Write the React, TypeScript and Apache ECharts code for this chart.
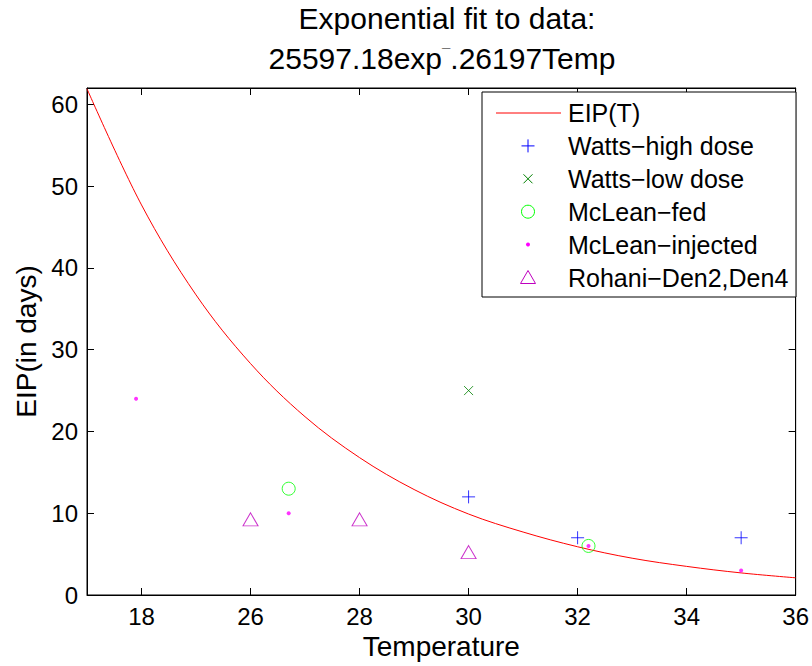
import React, { useEffect, useRef } from "react";
import * as echarts from "echarts";

// ---- Data ----
const curveTemp = [23, 24, 25, 26, 27, 28, 29, 30, 31, 32, 33, 34, 35, 36];
const curveEIP = [61.9, 47.7, 36.7, 28.3, 21.8, 16.8, 12.9, 9.9, 7.7, 5.9, 4.5, 3.5, 2.7, 2.1];

const wattsHighTemp = [30, 32, 35];
const wattsHighEIP = [12, 7, 7];

const wattsLowTemp = [30];
const wattsLowEIP = [25];

const mcleanFedTemp = [26.7, 32.2];
const mcleanFedEIP = [13, 6];

const mcleanInjTemp = [23.9, 26.7, 32.2, 35];
const mcleanInjEIP = [24, 10, 6, 3];

const rohaniTemp = [26, 28, 30];
const rohaniEIP = [9, 9, 5];

const xTickValues = [24, 26, 28, 30, 32, 34, 36];
const xTickLabels = ["18", "26", "28", "30", "32", "34", "36"];
const yTickValues = [0, 10, 20, 30, 40, 50, 60];

const seriesNames = [
  "EIP(T)",
  "Watts\u2212high dose",
  "Watts\u2212low dose",
  "McLean\u2212fed",
  "McLean\u2212injected",
  "Rohani\u2212Den2,Den4",
];

const titleLine1 = "Exponential fit to data:";
const titleLine2 = "25597.18exp{s|\u00AF}.26197Temp";

const FONT = '"Liberation Sans", Arial, Helvetica, sans-serif';

const zip = (a: number[], b: number[]) => a.map((v, i) => [v, b[i]]);

const PLUS = "path://M0,-10 L0,10 M-10,0 L10,0";
const CROSS = "path://M-10,-10 L10,10 M-10,10 L10,-10";

export default function App() {
  const ref = useRef<HTMLDivElement>(null);

  useEffect(() => {
    if (!ref.current) return;
    const chart = echarts.init(ref.current, null, { renderer: "svg" });

    // legend drawn with graphics
    const lgX = 482;
    const lgY = 92;
    const lgW = 314;
    const lgH = 205;
    const row0 = 113;
    const rowStep = 32.9;
    const symX = 528;
    const textX = 568;
    const legendEls: any[] = [
      {
        type: "rect",
        shape: { x: lgX, y: lgY, width: lgW, height: lgH },
        style: { fill: "#fff", stroke: "#000", lineWidth: 1 },
        z: 100,
      },
    ];
    const ry = (i: number) => row0 + i * rowStep;
    legendEls.push({
      type: "line",
      shape: { x1: 496, y1: ry(0), x2: 561, y2: ry(0) },
      style: { stroke: "#ff0000", lineWidth: 1 },
      z: 101,
    });
    legendEls.push({
      type: "line",
      shape: { x1: symX - 6.5, y1: ry(1), x2: symX + 6.5, y2: ry(1) },
      style: { stroke: "#0000ff", lineWidth: 1 },
      z: 101,
    });
    legendEls.push({
      type: "line",
      shape: { x1: symX, y1: ry(1) - 6.5, x2: symX, y2: ry(1) + 6.5 },
      style: { stroke: "#0000ff", lineWidth: 1 },
      z: 101,
    });
    legendEls.push({
      type: "line",
      shape: { x1: symX - 4.5, y1: ry(2) - 4.5, x2: symX + 4.5, y2: ry(2) + 4.5 },
      style: { stroke: "#008000", lineWidth: 1 },
      z: 101,
    });
    legendEls.push({
      type: "line",
      shape: { x1: symX - 4.5, y1: ry(2) + 4.5, x2: symX + 4.5, y2: ry(2) - 4.5 },
      style: { stroke: "#008000", lineWidth: 1 },
      z: 101,
    });
    legendEls.push({
      type: "circle",
      shape: { cx: symX, cy: ry(3), r: 6.5 },
      style: { fill: "none", stroke: "#00ff00", lineWidth: 1 },
      z: 101,
    });
    legendEls.push({
      type: "circle",
      shape: { cx: symX, cy: ry(4), r: 2 },
      style: { fill: "#ff00ff" },
      z: 101,
    });
    legendEls.push({
      type: "polygon",
      shape: {
        points: [
          [symX, ry(5) - 7],
          [symX - 7.5, ry(5) + 6],
          [symX + 7.5, ry(5) + 6],
        ],
      },
      style: { fill: "none", stroke: "#bf00bf", lineWidth: 1 },
      z: 101,
    });
    seriesNames.forEach((n, i) => {
      legendEls.push({
        type: "text",
        x: textX,
        y: ry(i),
        style: {
          text: n,
          fill: "#000",
          fontSize: 25,
          fontFamily: FONT,
          align: "left",
          verticalAlign: "middle",
        },
        z: 101,
      });
    });

    const titleEls = [
      {
        type: "text",
        x: 447,
        y: 18,
        style: {
          text: titleLine1,
          fill: "#000",
          fontSize: 30,
          fontFamily: FONT,
          align: "center",
          verticalAlign: "middle",
        },
      },
      {
        type: "text",
        x: 442,
        y: 58,
        style: {
          text: titleLine2,
          fill: "#000",
          fontSize: 30,
          fontFamily: FONT,
          align: "center",
          verticalAlign: "middle",
          rich: {
            s: {
              fontSize: 15,
              fontFamily: FONT,
              fill: "#000",
              verticalAlign: "bottom",
              padding: [0, 0, 12, 0],
            },
          },
        },
      },
    ];

    const axisCommon = {
      type: "value",
      axisLine: { show: true, onZero: false, lineStyle: { color: "#000", width: 1 } },
      splitLine: { show: false },
    };

    const option: any = {
      animation: false,
      backgroundColor: "#fff",
      textStyle: { fontFamily: FONT },
      grid: {
        left: 87,
        right: 16,
        top: 88,
        bottom: 71,
        show: true,
        borderColor: "#000",
        borderWidth: 1,
        backgroundColor: "transparent",
      },
      xAxis: [
        {
          ...axisCommon,
          position: "bottom",
          min: 23,
          max: 36,
          name: "Temperature",
          nameLocation: "middle",
          nameGap: 33,
          nameTextStyle: { fontSize: 28, color: "#000", fontFamily: FONT },
          axisTick: { show: true, inside: true, length: 7, customValues: xTickValues, lineStyle: { color: "#000" } },
          axisLabel: {
            show: true,
            customValues: xTickValues,
            margin: 9,
            fontSize: 24,
            color: "#000",
            fontFamily: FONT,
            formatter: (v: number) => {
              const idx = xTickValues.indexOf(v);
              return idx >= 0 ? xTickLabels[idx] : "";
            },
          },
        },
        {
          ...axisCommon,
          position: "top",
          min: 23,
          max: 36,
          axisTick: { show: true, inside: true, length: 7, customValues: xTickValues, lineStyle: { color: "#000" } },
          axisLabel: { show: false },
        },
      ],
      yAxis: [
        {
          ...axisCommon,
          position: "left",
          min: 0,
          max: 62,
          name: "EIP(in days)",
          nameLocation: "middle",
          nameGap: 44,
          nameRotate: 90,
          nameTextStyle: { fontSize: 28, color: "#000", fontFamily: FONT },
          axisTick: { show: true, inside: true, length: 7, customValues: yTickValues, lineStyle: { color: "#000" } },
          axisLabel: {
            show: true,
            customValues: yTickValues,
            margin: 9,
            fontSize: 24,
            color: "#000",
            fontFamily: FONT,
          },
        },
        {
          ...axisCommon,
          position: "right",
          min: 0,
          max: 62,
          axisTick: { show: true, inside: true, length: 7, customValues: yTickValues, lineStyle: { color: "#000" } },
          axisLabel: { show: false },
        },
      ],
      series: [
        {
          name: seriesNames[0],
          type: "line",
          data: zip(curveTemp, curveEIP),
          smooth: 0.35,
          symbol: "none",
          clip: true,
          lineStyle: { color: "#ff0000", width: 1 },
          z: 2,
        },
        {
          name: seriesNames[1],
          type: "scatter",
          data: zip(wattsHighTemp, wattsHighEIP),
          symbol: PLUS,
          symbolSize: 13,
          itemStyle: { color: "rgba(0,0,0,0)", borderColor: "#0000ff", borderWidth: 1 },
          z: 3,
        },
        {
          name: seriesNames[2],
          type: "scatter",
          data: zip(wattsLowTemp, wattsLowEIP),
          symbol: CROSS,
          symbolSize: 9,
          itemStyle: { color: "rgba(0,0,0,0)", borderColor: "#008000", borderWidth: 1 },
          z: 3,
        },
        {
          name: seriesNames[3],
          type: "scatter",
          data: zip(mcleanFedTemp, mcleanFedEIP),
          symbol: "circle",
          symbolSize: 13,
          itemStyle: { color: "rgba(0,0,0,0)", borderColor: "#00ff00", borderWidth: 1 },
          z: 3,
        },
        {
          name: seriesNames[4],
          type: "scatter",
          data: zip(mcleanInjTemp, mcleanInjEIP),
          symbol: "circle",
          symbolSize: 4,
          itemStyle: { color: "#ff00ff" },
          z: 4,
        },
        {
          name: seriesNames[5],
          type: "scatter",
          data: zip(rohaniTemp, rohaniEIP),
          symbol: "triangle",
          symbolSize: [15, 13],
          symbolOffset: [0, -2],
          itemStyle: { color: "rgba(0,0,0,0)", borderColor: "#bf00bf", borderWidth: 1 },
          z: 3,
        },
      ],
      graphic: [...titleEls, ...legendEls],
    };

    chart.setOption(option);
    return () => chart.dispose();
  }, []);

  return <div ref={ref} style={{ width: 812, height: 666, position: "absolute", left: 0, top: 0 }} />;
}
